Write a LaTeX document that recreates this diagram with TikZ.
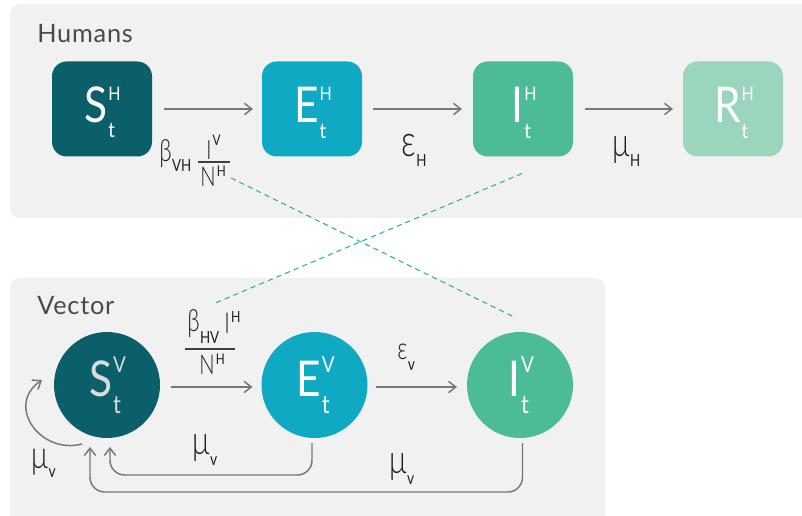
\documentclass[tikz,border=0pt]{standalone}
\usepackage{fontspec}
\setmainfont{Lato}
\newfontfamily\gk[FakeStretch=0.74]{Lato Light}
\newfontfamily\gkr[FakeStretch=0.8]{Lato}
\newfontfamily\lt[FakeStretch=0.86]{Lato}
\usetikzlibrary{arrows.meta,calc}

\definecolor{panelbg}{HTML}{F1F1F1}
\definecolor{cS}{HTML}{0B5F6B}
\definecolor{cE}{HTML}{0FA9C3}
\definecolor{cI}{HTML}{4BBC95}
\definecolor{cR}{HTML}{9BD5BC}
\definecolor{arrowgray}{HTML}{777777}
\definecolor{linkgreen}{HTML}{2FB57D}
\definecolor{titlegray}{HTML}{4A4A4A}
\definecolor{ink}{HTML}{1E1E1E}

% compartment symbol: letter, sup, sub, sup size, sub size, raise, drop
\newcommand\cpt[7]{{\fontsize{37}{37}\selectfont #1}\kern0.8pt%
  \rlap{\raisebox{-#7}{\fontsize{#5}{#5}\selectfont #3}}%
  \raisebox{#6}{\fontsize{#4}{#4}\selectfont #2}}
\newcommand\cpth[3]{\cpt{#1}{#2}{#3}{14pt}{16pt}{16.5pt}{11.5pt}}
\newcommand\cptv[3]{\cpt{#1}{#2}{#3}{16.5pt}{19pt}{17.7pt}{13pt}}
% symbol with subscript: size, symbol, subsize, drop, sub
\newcommand\gsub[5]{{\fontsize{#1}{#1}\selectfont #2}\kern0.3pt%
  \raisebox{-#4}{\gkr\fontsize{#3}{#3}\selectfont #5}}
% symbol with superscript: size, symbol, supsize, raise, sup
\newcommand\gsup[5]{{\fontsize{#1}{#1}\selectfont #2}\kern1pt%
  \raisebox{#4}{\gkr\fontsize{#3}{#3}\selectfont #5}}

\tikzset{
  panel/.style={fill=panelbg, draw=none, rounded corners=7.5pt},
  hbox/.style={draw=none, rounded corners=11pt, minimum width=75pt,
    minimum height=71.25pt, inner sep=0pt, outer sep=0pt},
  vcirc/.style={circle, draw=none, minimum size=79.5pt, inner sep=0pt, outer sep=0pt},
  sym/.style={anchor=base, inner sep=0pt, text=white, font=\lt},
  lab/.style={anchor=base west, inner sep=0pt, text=ink, font=\gk},
  title/.style={anchor=base west, inner sep=0pt, text=titlegray,
    font=\fontsize{19}{19}\selectfont\addfontfeature{LetterSpace=3}},
  arr/.style={draw=arrowgray, line width=1.1pt,
    -{Straight Barb[length=5.5pt,width=8.5pt,line width=1.1pt]}},
  ret/.style={arr, rounded corners=11pt},
  link/.style={draw=linkgreen, line width=0.8pt, dash pattern=on 4pt off 3pt},
  rule/.style={draw=ink!85, line width=1pt},
}

\begin{document}
\begin{tikzpicture}[x=0.75pt, y=-0.75pt]
  \useasboundingbox (0,0) rectangle (802,516);
  \fill[white] (0,0) rectangle (802,516);

  % panels
  \fill[panel] (10,4) rectangle (830,218);
  \fill[panel] (10,278) rectangle (605,540);
  \node[title] (thum) at (37,43) {Humans};
  \node[title] (tvec) at (37,315) {Vector};

  % human compartments
  \node[hbox, fill=cS] (sh) at (102,109) {};
  \node[hbox, fill=cE] (eh) at (312,109) {};
  \node[hbox, fill=cI] (ih) at (523,109) {};
  \node[hbox, fill=cR] (rh) at (733,109) {};
  \node[sym] (shl) at ($(sh.center)+(0.5,13.5)$) {\cpth{S}{H}{t}};
  \node[sym] (ehl) at ($(eh.center)+(1,14)$) {\cpth{E}{H}{t}};
  \node[sym] (ihl) at ($(ih.center)+(1,14)$) {\cpth{I}{H}{t}};
  \node[sym] (rhl) at ($(rh.center)+(1,14)$) {\cpth{R}{H}{t}};

  % vector compartments
  \node[vcirc, fill=cS] (sv) at (107,385) {};
  \node[vcirc, fill=cE] (ev) at (314.5,385) {};
  \node[vcirc, fill=cI] (iv) at (520,385) {};
  \node[sym, text=white!86!black] (svl) at ($(sv.center)+(0.5,11)$) {\cptv{S}{V}{t}};
  \node[sym] (evl) at ($(ev.center)+(1,11)$) {\cptv{E}{V}{t}};
  \node[sym] (ivl) at ($(iv.center)+(1,11)$) {\cptv{I}{V}{t}};

  % human transitions
  \draw[arr] ([shift={(12,0)}]sh.east) -- ([shift={(-9,0)}]eh.west);
  \draw[arr] ([shift={(11,0)}]eh.east) -- ([shift={(-11,0)}]ih.west);
  \draw[arr] ([shift={(12,0)}]ih.east) -- ([shift={(-10,0)}]rh.west);

  % vector transitions
  \draw[arr] ([shift={(11,2)}]sv.east) -- ([shift={(-9,2)}]ev.west);
  \draw[arr] ([shift={(8,2)}]ev.east) -- ([shift={(-10,2)}]iv.west);

  % vector deaths returning to susceptibles
  \draw[ret] ([shift={(-2.5,5)}]ev.south) -- ++(0,32) -| ([shift={(3,9)}]sv.south);
  \draw[ret] ([shift={(2.5,5)}]iv.south) -- ++(0,49) -| ([shift={(-17,9)}]sv.south);
  \draw[arr] ($(sv.center)+(-25,59)$) .. controls ($(sv.center)+(-67,70)$)
    and ($(sv.center)+(-102,20)$) .. ($(sv.center)+(-65,-5)$);

  % rates, humans
  \node[lab] (bvh) at (159,162) {\gsub{23pt}{β}{12.5pt}{7.5pt}{VH}};
  \node[lab] (nvh) at (206,160) {\gsup{20pt}{I}{11pt}{10.5pt}{V}};
  \draw[rule] (198,162) -- (230,162);
  \node[lab] (dvh) at (200,187) {\gsup{20.5pt}{N}{11pt}{7.5pt}{H}};
  \node[lab] (epsh) at (401,157) {\gsub{33pt}{ε}{12.5pt}{7pt}{H}};
  \node[lab] (muh) at (612,157) {\gsub{30pt}{μ}{12.5pt}{7pt}{H}};

  % rates, vector
  \node[lab] (bhv) at (187,331) {\gsub{23pt}{β}{12.5pt}{9pt}{HV}};
  \node[lab] (nhv) at (224,333) {\gsup{21.5pt}{I}{11.5pt}{8.25pt}{H}};
  \draw[rule] (185,349) -- (235,349);
  \node[lab] (dhv) at (199,374) {\gsup{20.5pt}{N}{11pt}{7.5pt}{H}};
  \node[lab] (epsv) at (397,359) {\gsub{23pt}{ε}{13pt}{8.25pt}{v}};
  \node[lab] (mue) at (192,454) {\gsub{30pt}{μ}{13pt}{8.25pt}{v}};
  \node[lab] (mui) at (389,473) {\gsub{30pt}{μ}{13pt}{8.25pt}{v}};
  \node[lab] (mus) at (31,468) {\gsub{29pt}{μ}{13pt}{6.75pt}{v}};

  % cross-species infection links
  \coordinate (l1a) at (231,178);
  \coordinate (l2b) at (213,304);
  \draw[link] (l1a) -- ([shift={(-4,-14)}]iv.north);
  \draw[link] ([shift={(-1,17)}]ih.south) -- (l2b);
\end{tikzpicture}
\end{document}
